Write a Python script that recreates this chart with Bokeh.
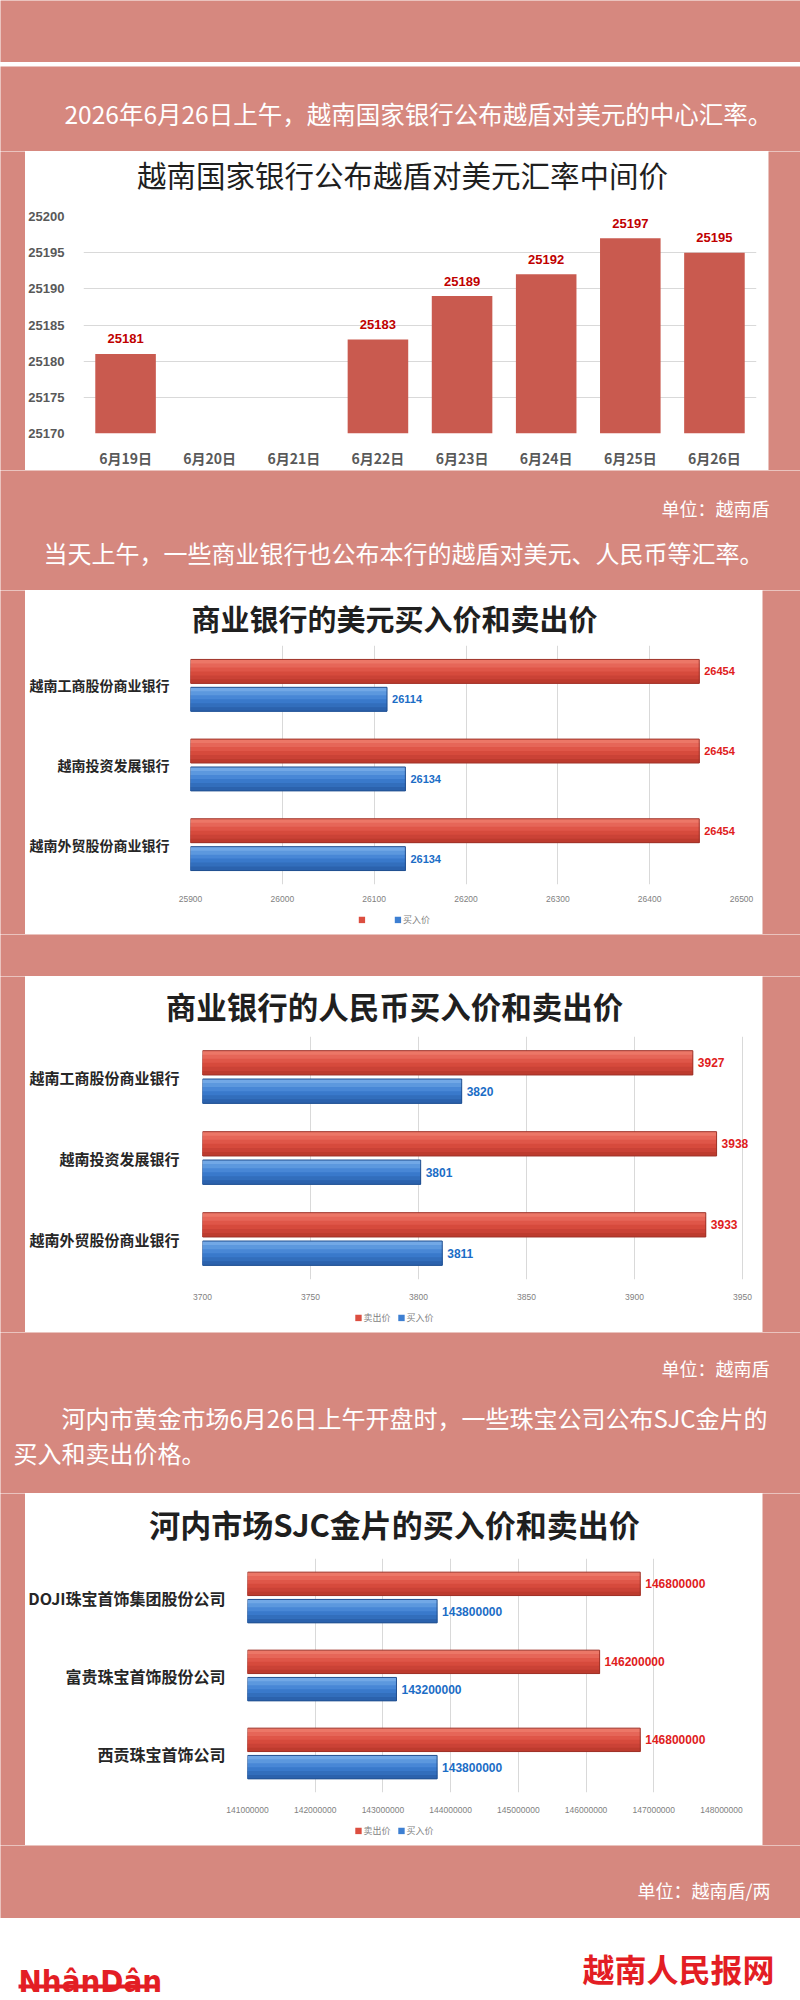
from bokeh.plotting import figure
from bokeh.models import (Range1d, FactorRange, FixedTicker, Label, Legend, LegendItem,
                          ColumnDataSource, BoxAnnotation, NumeralTickFormatter)
from bokeh.layouts import column, row
from bokeh.transform import dodge
from bokeh.core.properties import value
from bokeh.embed import file_html
from bokeh.resources import INLINE

# ---------------- data ----------------
dates = ["6月19日", "6月20日", "6月21日", "6月22日", "6月23日", "6月24日", "6月25日", "6月26日"]
mid_rates = [25181, None, None, 25183, 25189, 25192, 25197, 25195]
rate_ticks = [25170, 25175, 25180, 25185, 25190, 25195, 25200]

banks = ["越南工商股份商业银行", "越南投资发展银行", "越南外贸股份商业银行"]
usd_sell = [26454, 26454, 26454]
usd_buy = [26114, 26134, 26134]
usd_ticks = [25900, 26000, 26100, 26200, 26300, 26400, 26500]

cny_sell = [3927, 3938, 3933]
cny_buy = [3820, 3801, 3811]
cny_ticks = [3700, 3750, 3800, 3850, 3900, 3950]

companies = ["DOJI珠宝首饰集团股份公司", "富贵珠宝首饰股份公司", "西贡珠宝首饰公司"]
gold_sell = [146800000, 146200000, 146800000]
gold_buy = [143800000, 143200000, 143800000]
gold_ticks = [141000000, 142000000, 143000000, 144000000, 145000000,
              146000000, 147000000, 148000000]

series_names = ["卖出价", "买入价"]

titles = ["越南国家银行公布越盾对美元汇率中间价",
          "商业银行的美元买入价和卖出价",
          "商业银行的人民币买入价和卖出价",
          "河内市场SJC金片的买入价和卖出价"]
para1 = "2026年6月26日上午，越南国家银行公布越盾对美元的中心汇率。"
para2 = "当天上午，一些商业银行也公布本行的越盾对美元、人民币等汇率。"
para3a = "河内市黄金市场6月26日上午开盘时，一些珠宝公司公布SJC金片的"
para3b = "买入和卖出价格。"
unit1 = "单位：越南盾"
unit2 = "单位：越南盾/两"

# ---------------- style ----------------
PINK = "#d6887f"
CJK = "Noto Sans CJK SC"
NUM = "Liberation Sans"
RED = dict(stops=["#ef7f6f", "#dc4e40", "#b7372b"], edge="#9e3228", txt="#e0201c")
BLUE = dict(stops=["#7cb0ea", "#3d7fd2", "#275ca6"], edge="#214f8f", txt="#1b6dc6")
GRID = "#d9d9d9"
W = 800


def hex2rgb(h):
    return tuple(int(h[i:i + 2], 16) for i in (1, 3, 5))


def mix(a, b, t):
    ra, rb = hex2rgb(a), hex2rgb(b)
    return "#%02x%02x%02x" % tuple(round(x + (y - x) * t) for x, y in zip(ra, rb))


def shade_list(stops, n):
    out = []
    for k in range(n):
        t = (k + 0.5) / n
        if t < 0.5:
            out.append(mix(stops[0], stops[1], t / 0.5))
        else:
            out.append(mix(stops[1], stops[2], (t - 0.5) / 0.5))
    return out


def canvas(w, h, color):
    p = figure(width=w, height=h, x_range=Range1d(0, w), y_range=Range1d(h, 0),
               x_axis_location=None, y_axis_location=None,
               output_backend="svg", toolbar_location=None, min_border=0)
    p.grid.visible = False
    p.outline_line_color = None
    p.background_fill_color = color
    p.border_fill_color = color
    return p


def label(p, x, y, s, size, color="white", align="left", baseline="middle",
          font=CJK, style="normal"):
    p.add_layout(Label(x=x, y=y, text=s, text_font_size=f"{size}px", text_color=color,
                       text_align=align, text_baseline=baseline, text_font=font,
                       text_font_style=style))


def style_chart(p):
    p.outline_line_color = None
    p.background_fill_color = "white"
    p.border_fill_color = "white"
    for ax in p.axis:
        ax.axis_line_color = None
        ax.major_tick_line_color = None
        ax.minor_tick_line_color = None


# ---------------- chart 1 ----------------
keep = [i for i, v in enumerate(mid_rates) if v is not None]
src1 = ColumnDataSource(dict(
    date=[dates[i] for i in keep],
    rate=[mid_rates[i] for i in keep],
    txt=[str(mid_rates[i]) for i in keep],
))
p1 = figure(width=743, height=274, x_range=FactorRange(*dates),
            y_range=Range1d(rate_ticks[0], rate_ticks[-1]),
            output_backend="svg", toolbar_location=None,
            min_border_left=58, min_border_right=12, min_border_top=20, min_border_bottom=36)
style_chart(p1)
p1.vbar(x="date", top="rate", bottom=rate_ticks[0], width=0.72, source=src1,
        fill_color="#c95a4f", line_color=None)
p1.text(x="date", y="rate", text="txt", source=src1, y_offset=-15,
        text_align="center", text_baseline="middle", text_font=value(NUM),
        text_font_style="bold", text_font_size="13px", text_color="#c00000")
p1.yaxis.ticker = FixedTicker(ticks=rate_ticks)
p1.yaxis.major_label_text_font = NUM
p1.yaxis.major_label_text_font_style = "bold"
p1.yaxis.major_label_text_font_size = "13px"
p1.yaxis.major_label_text_color = "#595959"
p1.yaxis.major_label_standoff = 13
p1.xaxis.major_label_text_font = CJK
p1.xaxis.major_label_text_font_style = "bold"
p1.xaxis.major_label_text_font_size = "14px"
p1.xaxis.major_label_text_color = "#595959"
p1.xaxis.major_label_standoff = 8
p1.ygrid.grid_line_color = GRID
p1.xgrid.visible = False

t1 = canvas(743, 45, "white")
label(t1, 377, 22, titles[0], 29.5, color="#1f1f1f", align="center")
row1 = row(canvas(25, 319, PINK), column(t1, row(p1)), canvas(32, 319, PINK))


# ---------------- horizontal bar charts ----------------
BH = 0.3
OFF = 0.175
NSTRIP = 6
PANEL_W = 737


def hbar_chart(cats, sell, buy, ticks, h, geo, cat_size, val_size, fmt=None):
    # geo: frame left px, last-tick px, frame right px, top, bottom, standoffs (panel-local)
    f_left, tick_right, f_right, top, bottom, cat_standoff, tick_standoff = geo
    span = ticks[-1] - ticks[0]
    x_end = ticks[-1] + span * (f_right - tick_right) / (tick_right - f_left)
    p = figure(width=PANEL_W, height=h, y_range=FactorRange(*reversed(cats)),
               x_range=Range1d(ticks[0], x_end),
               output_backend="svg", toolbar_location=None,
               min_border_left=f_left, min_border_right=PANEL_W - f_right,
               min_border_top=top, min_border_bottom=bottom)
    style_chart(p)
    src = ColumnDataSource(dict(cat=cats, sell=sell, buy=buy,
                                sell_txt=[str(v) for v in sell],
                                buy_txt=[str(v) for v in buy],
                                base=[ticks[0]] * len(cats)))
    sh = BH / NSTRIP
    for field, off, c in (("sell", OFF, RED), ("buy", -OFF, BLUE)):
        # stacked, overlapping layers (each reaches the bar bottom) -> smooth shading, no seams
        for k, col in enumerate(shade_list(c["stops"], NSTRIP)):
            top_k = off + BH / 2 - k * sh
            bot = off - BH / 2
            p.hbar(y=dodge("cat", (top_k + bot) / 2, range=p.y_range),
                   left="base", right=field, height=top_k - bot, source=src,
                   fill_color=col, line_color=None)
        p.hbar(y=dodge("cat", off, range=p.y_range), left="base", right=field, height=BH,
               source=src, fill_color=None, line_color=c["edge"], line_width=1)
        p.text(x=field, y=dodge("cat", off, range=p.y_range), text=field + "_txt", source=src,
               x_offset=5, text_align="left", text_baseline="middle", text_font=value(NUM),
               text_font_style="bold", text_font_size=f"{val_size}px", text_color=c["txt"])
    p.xaxis.ticker = FixedTicker(ticks=ticks)
    if fmt is not None:
        p.xaxis.formatter = fmt
    p.xaxis.major_label_text_font = NUM
    p.xaxis.major_label_text_font_size = "8.5px"
    p.xaxis.major_label_text_color = "#7f7f7f"
    p.xaxis.major_label_standoff = tick_standoff
    p.yaxis.major_label_text_font = CJK
    p.yaxis.major_label_text_font_style = "bold"
    p.yaxis.major_label_text_font_size = f"{cat_size}px"
    p.yaxis.major_label_text_color = "#262626"
    p.yaxis.major_label_standoff = cat_standoff
    p.xgrid.grid_line_color = GRID
    p.ygrid.visible = False
    return p


def legend_fig(labels):
    p = canvas(PANEL_W, 30, "white")
    r1 = p.quad(left=[0], right=[1], top=[0], bottom=[1], fill_color=RED["stops"][1],
                line_color=None, visible=False)
    r2 = p.quad(left=[0], right=[1], top=[0], bottom=[1], fill_color=BLUE["stops"][1],
                line_color=None, visible=False)
    lg = Legend(items=[LegendItem(label=labels[0], renderers=[r1]),
                       LegendItem(label=labels[1], renderers=[r2])],
                orientation="horizontal", location="center",
                label_text_font=CJK, label_text_font_size="9px", label_text_color="#7f7f7f",
                glyph_width=8, glyph_height=8, label_standoff=2, spacing=6,
                padding=0, margin=0, border_line_color=None, background_fill_alpha=0,
                label_height=10)
    p.add_layout(lg)
    return p


def title_fig(h, y, text, size):
    p = canvas(PANEL_W, h, "white")
    label(p, 369, y, text, size, color="#1f1f1f", align="center", style="bold")
    return p


def chart_row(title_h, title_y, title, title_size, chart, legend_labels, h):
    return row(canvas(25, h, PINK),
               column(title_fig(title_h, title_y, title, title_size), row(chart),
                      legend_fig(legend_labels)),
               canvas(W - 25 - PANEL_W, h, PINK))


p2 = hbar_chart(banks, usd_sell, usd_buy, usd_ticks, 264, (165, 716, 716, 5, 19, 15, 5), 14, 11)
row2 = chart_row(50, 27, titles[1], 29, p2, [" ", series_names[1]], 344)

p3 = hbar_chart(banks, cny_sell, cny_buy, cny_ticks, 272, (177, 717, 735, 6, 23, 17, 8), 15, 12)
row3 = chart_row(54, 29, titles[2], 30.5, p3, series_names, 356)

p4 = hbar_chart(companies, gold_sell, gold_buy, gold_ticks, 265, (212, 696, 696, 8, 20, 16, 8),
                16, 12, fmt=NumeralTickFormatter(format="0"))
row4 = chart_row(57, 30, titles[3], 31, p4, series_names, 352)

# ---------------- text bands ----------------
bandA = canvas(W, 62, PINK)
bandB = canvas(W, 4, "white")
bandC = canvas(W, 85, PINK)
label(bandC, 64, 47, para1, 24.5)

bandD = canvas(W, 120, PINK)
label(bandD, 769, 37, unit1, 18, align="right")
label(bandD, 43, 82, para2, 24)

bandE = canvas(W, 42, PINK)

bandF = canvas(W, 161, PINK)
label(bandF, 769, 35, unit1, 18, align="right")
label(bandF, 61, 85, para3a, 24)
label(bandF, 13, 120, para3b, 24)

bandG = canvas(W, 73, PINK)
label(bandG, 770, 44, unit2, 18, align="right")

bandH = canvas(W, 80, "white")
label(bandH, 18, 62, "NhânDân", 31, color="#e31e24", baseline="alphabetic",
      font="Liberation Sans Narrow, DejaVu Sans Condensed, Liberation Sans", style="bold")
bandH.add_layout(BoxAnnotation(left=18, right=156, top=66, bottom=70, fill_color="#e31e24",
                               fill_alpha=1, line_color=None))
label(bandH, 774, 49, "越南人民报网", 32, color="#e31e24", align="right", style="bold")

page = column(bandA, bandB, bandC, row1, bandD, row2, bandE, row3, bandF, row4, bandG, bandH)

open("out.html", "w").write(file_html(page, INLINE))
